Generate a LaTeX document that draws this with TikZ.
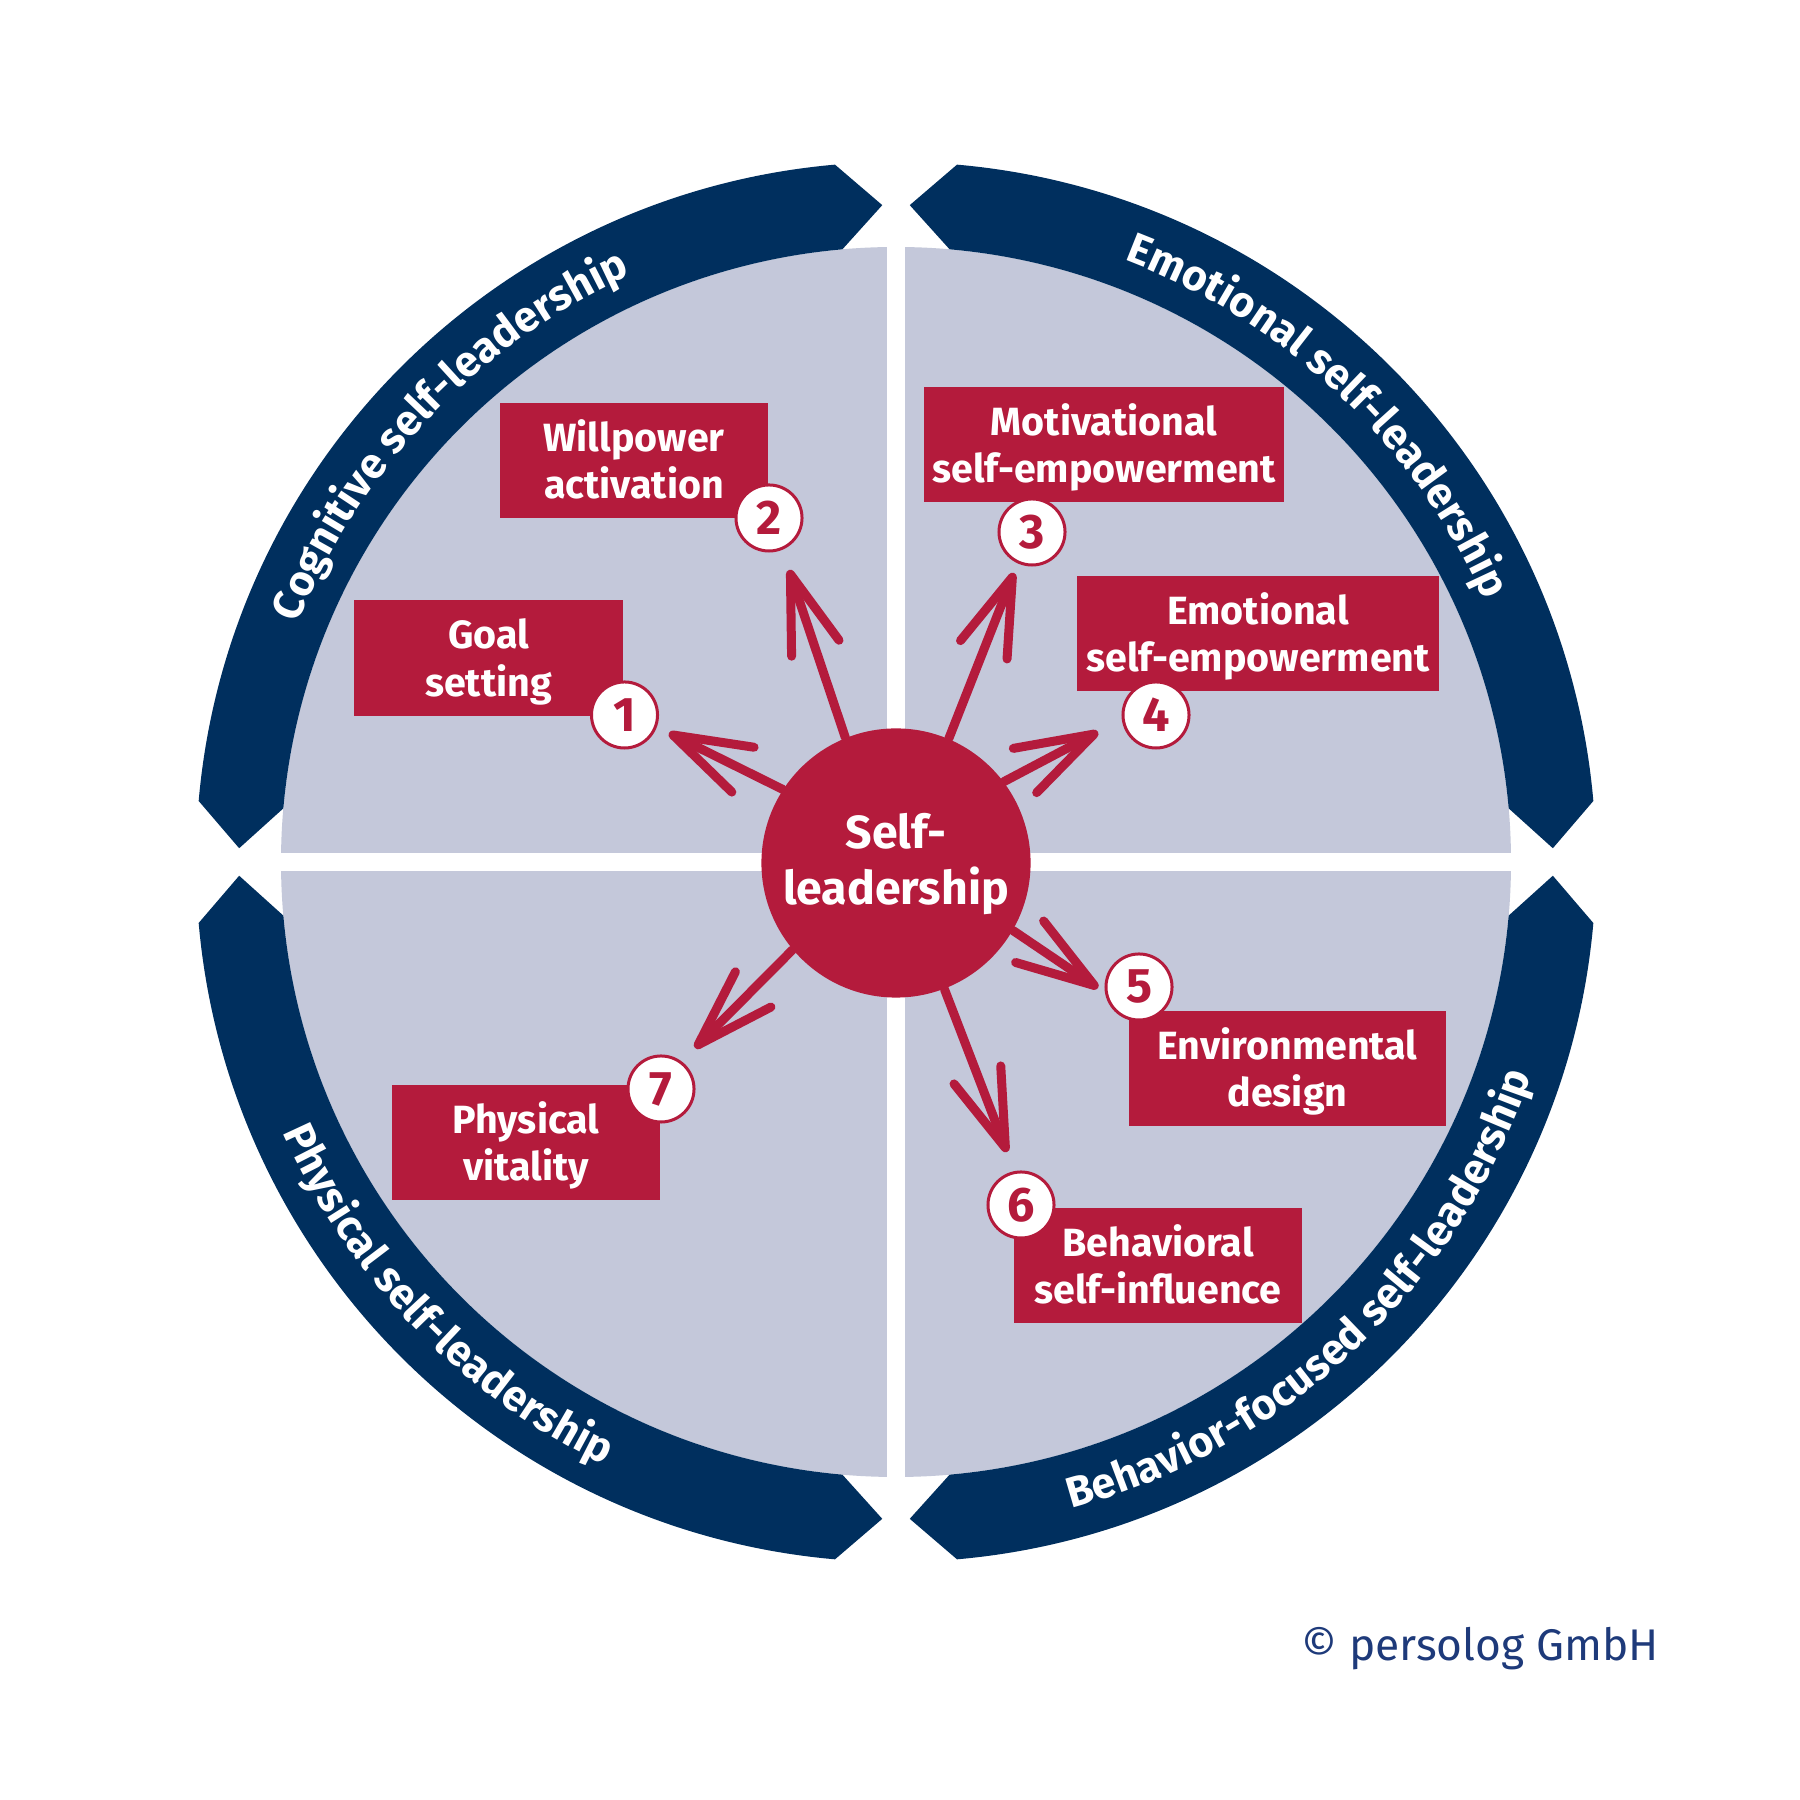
\documentclass[tikz,border=0pt]{standalone}
\usepackage{fontspec}
\setmainfont{Fira Sans}
\usetikzlibrary{arrows.meta,decorations.text}
\definecolor{navy}{RGB}{0,47,94}
\definecolor{slred}{RGB}{180,27,60}
\definecolor{disk}{RGB}{196,200,218}
\definecolor{copyblue}{RGB}{30,58,122}
\newcommand\boxfont{\fontsize{11.2pt}{13.37pt}\selectfont\bfseries}
\newcommand\centerfont{\fontsize{13.2pt}{15.93pt}\selectfont\bfseries}
\newcommand\numfont{\fontsize{13.8pt}{16pt}\selectfont\bfseries}
\newcommand\bandfont{\fontsize{12.2pt}{14pt}\selectfont\bfseries}
\newcommand\copyfont{\fontsize{12.6pt}{15pt}\selectfont}
\begin{document}
\begin{tikzpicture}[x=0.01cm, y=0.01cm,
  lbox/.style={fill=slred, minimum width=#1, minimum height=1.15cm, inner sep=0pt, outer sep=0pt},
  ltext/.style={text=white, font=\boxfont, align=center, inner sep=0pt, anchor=base},
  numc/.style={circle, fill=white, draw=slred, line width=0.03cm, minimum size=0.66cm, inner sep=0pt, text=slred, font=\numfont},
  arr/.style={draw=slred, line width=0.09cm, line cap=round, -{Straight Barb[length=0.78cm, width=0.5cm, round]}},
  bandfill/.style={fill=navy},
  bandtext/.style={decorate, decoration={text along path, text align=center, text color=white, text={#1}}}
]
\useasboundingbox (0,0) rectangle (1800,1800);
\fill[white] (0,0) rectangle (1800,1800);

\begin{scope}[shift={(896,938)}]
  \fill[disk] (0,0) circle[radius=615];
  \fill[white] (-620,-9) rectangle (620,9);
  \fill[white] (-9,-620) rectangle (9,620);
  \foreach \p in {45,135,225,315}{
    \fill[bandfill] (\p-40:700) arc[start angle=\p-40, end angle=\p+40, radius=700]
      -- (\p+43.8:657) -- (\p+40:615)
      arc[start angle=\p+40, end angle=\p-40, radius=615]
      -- (\p-43.8:657) -- cycle;
  }
  \path[bandtext={|\bandfont|Cognitive self-leadership}] (166.3:644) arc[start angle=166.3, end angle=106.3, radius=644];
  \path[bandtext={|\bandfont|Emotional self-leadership}] (76.6:644) arc[start angle=76.6, end angle=16.6, radius=644];
  \path[bandtext={|\bandfont|Physical self-leadership}] (194:670) arc[start angle=194, end angle=254, radius=670];
  \path[bandtext={|\bandfont|Behavior-focused self-leadership}] (278.3:670) arc[start angle=278.3, end angle=348.3, radius=670];
\end{scope}

% centre
\node[circle, fill=slred, minimum size=2.69cm, inner sep=0pt] (c) at (896,937) {};

% arrow tips
\coordinate (t1) at (669,1067);
\coordinate (t2) at (789,1230);
\coordinate (t3) at (1014,1227);
\coordinate (t4) at (1098,1068);
\coordinate (t5) at (1098,812);
\coordinate (t6) at (1007,648);
\coordinate (t7) at (695,752);

\draw[arr] (c.147) -- (t1);
\draw[arr] (c.112) -- (t2);
\draw[arr] (c.67) -- (t3);
\draw[arr] (c.37) -- (t4);
\draw[arr] (c.-30) -- (t5);
\draw[arr] (c.-69) -- (t6);
\draw[arr] (c.220.5) -- (t7);

\node[text=white, font=\centerfont, align=center, inner sep=0pt, anchor=base] (ct) at (896,895) {Self-\\leadership};

% boxes
\node[lbox=2.69cm] (b1) at (488.5,1142) {};
\node[lbox=2.68cm] (b2) at (634,1339.5) {};
\node[lbox=3.60cm] (b3) at (1104,1355.5) {};
\node[lbox=3.62cm] (b4) at (1258,1166.5) {};
\node[lbox=3.17cm] (b5) at (1287.5,731.5) {};
\node[lbox=2.88cm] (b6) at (1158,534.5) {};
\node[lbox=2.68cm] (b7) at (526,657.5) {};

\node[ltext] (l1) at ([yshift=-0.955cm]b1.north) {Goal\\setting};
\node[ltext] (l2) at ([yshift=-0.955cm]b2.north) {Willpower\\activation};
\node[ltext] (l3) at ([yshift=-0.955cm]b3.north) {Motivational\\self-empowerment};
\node[ltext] (l4) at ([yshift=-0.955cm]b4.north) {Emotional\\self-empowerment};
\node[ltext] (l5) at ([yshift=-0.955cm]b5.north) {Environmental\\design};
\node[ltext] (l6) at ([yshift=-0.955cm]b6.north) {Behavioral\\self-influence};
\node[ltext] (l7) at ([yshift=-0.955cm]b7.north) {Physical\\vitality};

% number circles
\node[numc] (n1) at (624.5,1085) {1};
\node[numc] (n2) at (769,1282) {2};
\node[numc] (n3) at (1032,1268) {3};
\node[numc] (n4) at (1156,1085) {4};
\node[numc] (n5) at (1139,813) {5};
\node[numc] (n6) at (1021,595) {6};
\node[numc] (n7) at (661,711) {7};

\node[anchor=base west, inner sep=0pt, text=copyblue, font=\copyfont] (cp) at (1301,139) {© persolog GmbH};
\end{tikzpicture}
\end{document}
